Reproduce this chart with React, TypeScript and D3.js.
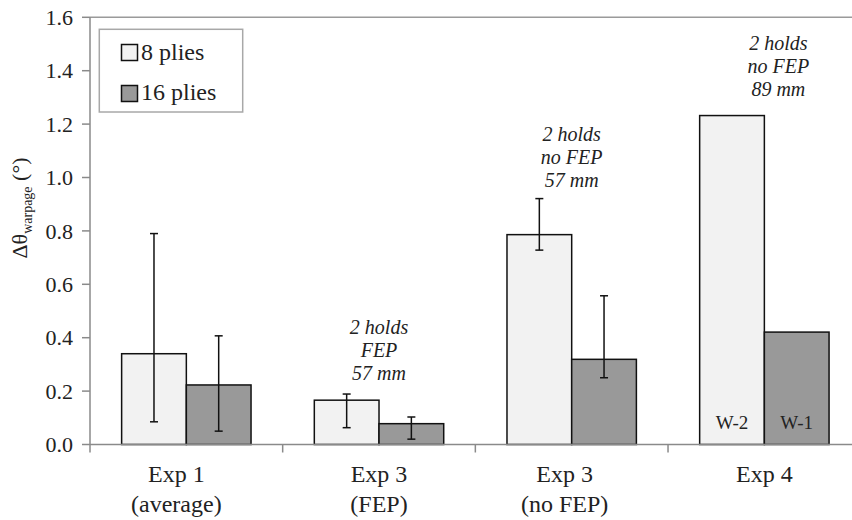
import React from "react";
import * as d3 from "d3";

const categories = ["Exp 1|(average)", "Exp 3|(FEP)", "Exp 3|(no FEP)", "Exp 4"];
const seriesNames = ["8 plies", "16 plies"];
const values8 = [0.34, 0.166, 0.786, 1.232];
const values16 = [0.223, 0.078, 0.319, 0.421];
const err8Low = [0.085, 0.063, 0.728, null];
const err8High = [0.79, 0.189, 0.921, null];
const err16Low = [0.05, 0.02, 0.25, null];
const err16High = [0.407, 0.103, 0.557, null];
const barLabels8 = ["", "", "", "W-2"];
const barLabels16 = ["", "", "", "W-1"];
const annotations = [null, ["2 holds", "FEP", "57 mm"], ["2 holds", "no FEP", "57 mm"], ["2 holds", "no FEP", "89 mm"]];
const annotationBase = [0, 0.242, 0.964, 1.304];
const yTicks = [0, 0.2, 0.4, 0.6, 0.8, 1.0, 1.2, 1.4, 1.6];

const W = 852, H = 520;
const left = 90, right = 860.7, top = 17.3, bottom = 444.5;
const FONT = "'Liberation Serif', 'Times New Roman', serif";
const fills = ["#f2f2f2", "#999999"];

export default function App() {
  const y = d3.scaleLinear().domain([0, 1.6]).range([bottom, top]);
  const x0 = d3.scaleBand<string>().domain(categories).range([left, right]).padding(0);
  const x1 = d3.scaleBand<string>().domain(seriesNames).range([0, x0.bandwidth()]).paddingInner(0).paddingOuter(0.489);
  const series = [
    { name: seriesNames[0], vals: values8, lo: err8Low, hi: err8High, labels: barLabels8 },
    { name: seriesNames[1], vals: values16, lo: err16Low, hi: err16High, labels: barLabels16 },
  ];
  const annDx = [0, 0, 0, 14];
  const labelDx = [-10, 0, -7, 0];
  const boundaries = categories.map((c) => x0(c)!).concat([right]);
  return (
    <svg width={W} height={H} style={{ position: "absolute", left: 0, top: 0, background: "#fff" }} fontFamily={FONT}>
      {/* frame */}
      <line x1={left} x2={right} y1={top} y2={top} stroke="#9a9a9a" strokeWidth={1.5} />
      <line x1={left} x2={left} y1={top} y2={bottom} stroke="#8a8a8a" strokeWidth={1.5} />
      {yTicks.map((t) => (
        <g key={t}>
          <line x1={left - 8} x2={left} y1={y(t)} y2={y(t)} stroke="#8a8a8a" strokeWidth={1.5} />
          <text x={left - 17} y={y(t)} dy="0.35em" textAnchor="end" fontSize={22} fill="#222">
            {d3.format(".1f")(t)}
          </text>
        </g>
      ))}
      {/* bars */}
      {series.map((s, si) =>
        categories.map((c, ci) => {
          const bx = x0(c)! + x1(s.name)!;
          const bw = x1.bandwidth();
          return (
            <g key={si + "-" + ci}>
              <rect x={bx} y={y(s.vals[ci])} width={bw} height={bottom - y(s.vals[ci])} fill={fills[si]} stroke="#111" strokeWidth={1.5} />
              {s.labels[ci] && (
                <text x={bx + bw / 2} y={y(0) - 16} textAnchor="middle" fontSize={19} fill="#222">
                  {s.labels[ci]}
                </text>
              )}
            </g>
          );
        })
      )}
      {/* error bars */}
      {series.map((s, si) =>
        categories.map((c, ci) => {
          if (s.lo[ci] == null) return null;
          const cx = x0(c)! + x1(s.name)! + x1.bandwidth() / 2;
          return (
            <g key={"e" + si + ci} stroke="#111" strokeWidth={1.5}>
              <line x1={cx} x2={cx} y1={y(s.lo[ci] as number)} y2={y(s.hi[ci] as number)} />
              <line x1={cx - 4} x2={cx + 4} y1={y(s.lo[ci] as number)} y2={y(s.lo[ci] as number)} />
              <line x1={cx - 4} x2={cx + 4} y1={y(s.hi[ci] as number)} y2={y(s.hi[ci] as number)} />
            </g>
          );
        })
      )}
      {/* x axis */}
      <line x1={left} x2={right} y1={bottom} y2={bottom} stroke="#8a8a8a" strokeWidth={1.5} />
      {boundaries.map((b, i) => (
        <line key={i} x1={b} x2={b} y1={bottom} y2={bottom + 8} stroke="#8a8a8a" strokeWidth={1.5} />
      ))}
      {categories.map((c, ci) => {
        const lines = c.split("|");
        const cx = x0(c)! + x0.bandwidth() / 2 + labelDx[ci];
        return (
          <text key={c} x={cx} textAnchor="middle" fontSize={24} fill="#222">
            {lines.map((l, i) => (
              <tspan key={i} x={cx} y={481.5 + i * 30}>{l}</tspan>
            ))}
          </text>
        );
      })}
      {/* annotations */}
      {annotations.map((a, ci) => {
        if (!a) return null;
        const cx = x0(categories[ci])! + x0.bandwidth() / 2 + annDx[ci];
        const by = y(annotationBase[ci]);
        return (
          <text key={"a" + ci} textAnchor="middle" fontSize={20} fontStyle="italic" fill="#222">
            {a.map((l, i) => (
              <tspan key={i} x={cx} y={by - (a.length - 1 - i) * 23}>{l}</tspan>
            ))}
          </text>
        );
      })}
      {/* legend */}
      <rect x={99.3} y={29.3} width={143.4} height={82.7} fill="#fff" stroke="#a8a8a8" strokeWidth={1.5} />
      {seriesNames.map((n, i) => (
        <g key={n}>
          <rect x={121.5} y={44.5 + i * 41} width={16} height={16} fill={fills[i]} stroke="#111" strokeWidth={1.5} />
          <text x={141} y={59.5 + i * 40.5} fontSize={24} fill="#222">{n}</text>
        </g>
      ))}
      {/* y label */}
      <text transform={`translate(27, 208) rotate(-90)`} textAnchor="middle" fontSize={22} fill="#222">
        Δθ<tspan fontSize={14} dy="5">warpage</tspan>
        <tspan dy="-5"> (°)</tspan>
      </text>
    </svg>
  );
}
